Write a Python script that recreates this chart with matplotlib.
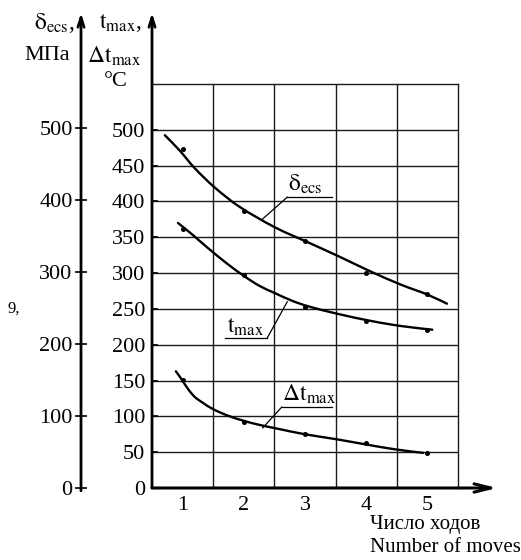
import matplotlib
matplotlib.use("Agg")
import matplotlib.pyplot as plt
from matplotlib.path import Path
from matplotlib.patches import PathPatch

plt.rcParams['font.family'] = ['Liberation Serif', 'DejaVu Serif']
plt.rcParams['mathtext.fontset'] = 'stix'

# ---- data ----
moves = [1, 2, 3, 4, 5]
sigma_ecs = [471, 385, 343, 299, 269]      # MPa
t_max = [362, 297, 253, 233, 221]          # deg C
dt_max = [151, 92, 75, 63, 49]             # deg C

# hand-drawn fitted curves
sigma_curve_x = [0.71, 0.96, 1.20, 1.53, 1.94, 2.51, 3.08, 3.57, 4.09, 4.58, 4.99, 5.32]
sigma_curve_y = [490, 468, 444, 417, 390, 362, 340, 321, 300, 282, 269, 256]
t_curve_x = [0.925, 1.17, 1.40, 1.73, 2.02, 2.26, 2.51, 2.80, 3.08, 3.54, 4.09, 4.58, 5.08]
t_curve_y = [370, 353, 336, 313, 295, 282, 272, 261, 253, 243, 233, 226, 221]
dt_curve_x = [0.89, 0.99, 1.09, 1.20, 1.33, 1.50, 1.74, 1.99, 2.26, 2.54, 3.00, 3.52, 3.98, 4.47, 4.93]
dt_curve_y = [163, 151, 138, 127, 119, 110, 101, 94, 88, 83, 75, 68, 61, 54, 49]

temp_ticks = list(range(0, 501, 50))
mpa_ticks = list(range(0, 501, 100))
grid_x = [1.5, 2.5, 3.5, 4.5]


def smooth_path(xs, ys):
    pts = list(zip(xs, ys))
    verts = [pts[0]]
    codes = [Path.MOVETO]
    n = len(pts)
    for i in range(n - 1):
        p0 = pts[i - 1] if i > 0 else pts[i]
        p1 = pts[i]
        p2 = pts[i + 1]
        p3 = pts[i + 2] if i + 2 < n else pts[i + 1]
        c1 = (p1[0] + (p2[0] - p0[0]) / 6, p1[1] + (p2[1] - p0[1]) / 6)
        c2 = (p2[0] - (p3[0] - p1[0]) / 6, p2[1] - (p3[1] - p1[1]) / 6)
        verts += [c1, c2, p2]
        codes += [Path.CURVE4] * 3
    return Path(verts, codes)


W, H = 521, 560
fig = plt.figure(figsize=(W / 100, H / 100), dpi=100)
fx = lambda px: px / W
fy = lambda py: 1 - py / H

ax = fig.add_axes([fx(152), fy(488), 306 / W, 404 / H])
ax.set_xlim(0.5, 5.5)
ax.set_ylim(0, 564)

# grid
for gy in temp_ticks[1:]:
    ax.axhline(gy, color='#1a1a1a', lw=1.0, zorder=1)
for gx in grid_x:
    ax.axvline(gx, color='#1a1a1a', lw=1.0, zorder=1)

for s in ['top', 'right']:
    ax.spines[s].set_linewidth(1.0)
    ax.spines[s].set_color('#1a1a1a')
ax.spines['left'].set_visible(False)
ax.spines['bottom'].set_visible(False)

ax.set_yticks(temp_ticks)
ax.set_yticklabels([str(v) for v in temp_ticks])
ax.tick_params(axis='y', direction='in', length=4, width=1.2, labelsize=16, pad=5)
ax.set_xticks(moves)
ax.set_xticklabels([str(m) for m in moves])
ax.tick_params(axis='x', length=0, labelsize=16, pad=6)

# curves on deg C axis
ax.add_patch(PathPatch(smooth_path(t_curve_x, t_curve_y), fill=False, ec='black',
                       lw=1.7, zorder=3, capstyle='round'))
ax.plot(moves, t_max, 'o', color='black', ms=2.6, zorder=4)
ax.add_patch(PathPatch(smooth_path(dt_curve_x, dt_curve_y), fill=False, ec='black',
                       lw=1.7, zorder=3, capstyle='round'))
ax.plot(moves, dt_max, 'o', color='black', ms=2.6, zorder=4)

# MPa axis
axm = ax.twinx()
axm.set_ylim(0, 404 / 0.72)
axm.spines['left'].set_position(('axes', -71 / 306))
for s in ['left', 'right', 'top', 'bottom']:
    axm.spines[s].set_visible(False)
axm.yaxis.set_ticks_position('left')
axm.set_yticks(mpa_ticks)
axm.set_yticklabels([str(v) for v in mpa_ticks])
axm.tick_params(axis='y', direction='inout', length=8, width=1.2, labelsize=16, pad=2)
axm.add_patch(PathPatch(smooth_path(sigma_curve_x, sigma_curve_y), fill=False, ec='black',
                        lw=1.7, zorder=3, capstyle='round'))
axm.plot(moves, sigma_ecs, 'o', color='black', ms=2.6, zorder=4)

# axis lines with arrows
arrow_kw = dict(arrowstyle='->,head_length=0.7,head_width=0.22', color='black', lw=2.0,
                shrinkA=0, shrinkB=0)
ax.annotate('', xy=(0, 1.176), xytext=(0, 0), xycoords='axes fraction',
            textcoords='axes fraction', arrowprops=arrow_kw, annotation_clip=False)
ax.annotate('', xy=(-71 / 306, 1.176), xytext=(-71 / 306, -0.007), xycoords='axes fraction',
            textcoords='axes fraction', arrowprops=arrow_kw, annotation_clip=False)
ax.annotate('', xy=(345 / 306, 0), xytext=(0, 0), xycoords='axes fraction',
            textcoords='axes fraction',
            arrowprops=dict(arrowstyle='->,head_length=1.2,head_width=0.3', color='black',
                            lw=2.2, shrinkA=0, shrinkB=0), annotation_clip=False)

# curve labels with underline and leader
ax.text(2.72, 424, r'$\mathrm{δ}_{\mathrm{ecs}}$', fontsize=17, va='center', ha='left')
ax.plot([2.71, 3.44], [406, 406], color='black', lw=0.9)
ax.plot([2.71, 2.30], [406, 375], color='black', lw=0.9)

ax.text(1.72, 225, r'$\mathrm{t}_{\mathrm{max}}$', fontsize=17, va='center', ha='left')
ax.plot([1.69, 2.38], [209, 209], color='black', lw=0.9)
ax.plot([2.38, 2.71], [209, 260], color='black', lw=0.9)

ax.text(2.62, 131, r'$\mathrm{Δt}_{\mathrm{max}}$', fontsize=17, va='center', ha='left')
ax.plot([2.62, 3.44], [113, 113], color='black', lw=0.9)
ax.plot([2.62, 2.31], [113, 84], color='black', lw=0.9)

# axis titles
fig.text(fx(34), fy(23), r'$\mathrm{δ}_{\mathrm{ecs}}$,', fontsize=17, va='center', ha='left')
fig.text(fx(24), fy(55), 'МПа', fontsize=16, va='center', ha='left')
fig.text(fx(99), fy(22), r'$\mathrm{t}_{\mathrm{max}}$,', fontsize=17, va='center', ha='left')
fig.text(fx(87), fy(56), r'$\mathrm{Δt}_{\mathrm{max}}$', fontsize=17, va='center', ha='left')
fig.text(fx(104), fy(82), '°C', fontsize=16, va='center', ha='left')

fig.text(fx(370), fy(525), 'Число ходов', fontsize=15, va='center', ha='left')
fig.text(fx(370), fy(547), 'Number of moves', fontsize=15, va='center', ha='left')
fig.text(fx(8), fy(309), '9,', fontsize=12, va='center', ha='left')

fig.savefig('out.png', dpi=100)
